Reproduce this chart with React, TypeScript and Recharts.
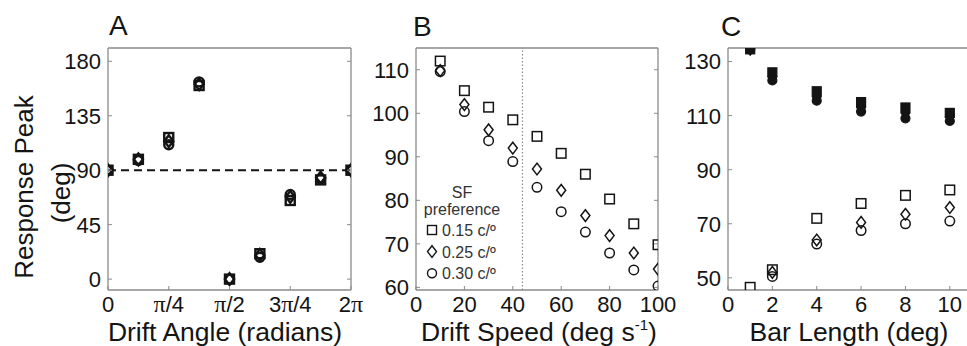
import React from 'react';
import { ScatterChart, Scatter, XAxis, YAxis, ReferenceLine } from 'recharts';

// Panel A: drift angle
const angleX = [0, 0.5, 1, 1.5, 2, 2.5, 3, 3.5, 4];
const angleSq = [90, 99, 117, 160, 0, 21, 65, 82, 90];
const angleDm = [90, 99, 114, 161, 0, 20, 68, 84, 90];
const angleCi = [90, 98, 111, 163, 0, 18, 70, 83, 90];
const angleTicks = [0, 1, 2, 3, 4];
const angleTickLabels = ['0', 'π/4', 'π/2', '3π/4', '2π'];
const peakTicks = [0, 45, 90, 135, 180];

// Panel B: drift speed
const speedX = [10, 20, 30, 40, 50, 60, 70, 80, 90, 100];
const speedSq = [112, 105.2, 101.4, 98.5, 94.7, 90.8, 86, 80.3, 74.6, 69.8];
const speedDm = [109.8, 102, 96.2, 92, 87.2, 82.3, 76.5, 71.9, 67.9, 64.2];
const speedCi = [109.6, 100.4, 93.7, 88.9, 83, 77.4, 72.7, 67.9, 64, 60.3];
const speedTicks = [0, 20, 40, 60, 80, 100];
const speedPeakTicks = [60, 70, 80, 90, 100, 110];
const sfLabels = ['0.15 c/º', '0.25 c/º', '0.30 c/º'];

// Panel C: bar length
const lengthX = [1, 2, 4, 6, 8, 10];
const lenFilledSq = [134.5, 126, 119, 115, 113, 111];
const lenFilledDm = [134.5, 124.5, 117, 113, 111, 109.5];
const lenFilledCi = [134.5, 123, 115.5, 111.5, 109, 108];
const lenOpenSq = [46.5, 53, 72, 77.5, 80.5, 82.5];
const lenOpenDm = [null, 52, 64, 70.5, 73.5, 76];
const lenOpenCi = [null, 50.5, 62.5, 67.5, 70, 71];
const lengthTicks = [0, 2, 4, 6, 8, 10];
const lengthPeakTicks = [50, 70, 90, 110, 130];

const FONT = '"Liberation Sans", Arial, Helvetica, sans-serif';
const INK = '#141414';
const FRAME = '#8a8a8a';

const toPoints = (xs: number[], ys: (number | null)[]) =>
  xs.map((x, i) => ({ x, y: ys[i] })).filter(p => p.y !== null);

type Kind = 'square' | 'diamond' | 'circle';

const drawMark = (kind: Kind, cx: number, cy: number, size: number, sw: number, filled: boolean) => {
  const h = size / 2;
  const fill = filled ? INK : 'none';
  if (kind === 'square')
    return <rect x={cx - h} y={cy - h} width={size} height={size} fill={fill} stroke={INK} strokeWidth={sw} />;
  if (kind === 'diamond')
    return (
      <polygon
        points={`${cx},${cy - h * 1.3} ${cx + h},${cy} ${cx},${cy + h * 1.3} ${cx - h},${cy}`}
        fill={fill}
        stroke={INK}
        strokeWidth={sw}
      />
    );
  return <circle cx={cx} cy={cy} r={h} fill={fill} stroke={INK} strokeWidth={sw} />;
};

const markShape = (kind: Kind, size: number, sw: number, filled = false) => (props: any) => {
  const { cx, cy } = props;
  if (cx == null || cy == null) return <g />;
  return drawMark(kind, cx, cy, size, sw, filled);
};

const labelText = (s: string) =>
  s.split(/(π)/).map((part, i) =>
    part === 'π' ? (
      <tspan key={i} fontFamily='"Liberation Serif", "Times New Roman", serif' fontSize={24}>
        π
      </tspan>
    ) : (
      <tspan key={i}>{part}</tspan>
    )
  );

const bottomTick = (labels?: string[], ticks?: number[]) => (props: any) => {
  const { x, y, payload } = props;
  const idx = ticks ? ticks.indexOf(payload.value) : -1;
  const label = labels && idx >= 0 ? labels[idx] : String(payload.value);
  return (
    <g>
      <line x1={x} x2={x} y1={y} y2={y - 4} stroke={FRAME} strokeWidth={1} />
      <text x={x} y={y + 22} textAnchor="middle" fontSize={22} fontFamily={FONT} fill={INK}>
        {labelText(label)}
      </text>
    </g>
  );
};

const topTick = (props: any) => {
  const { x, y } = props;
  return <line x1={x} x2={x} y1={y} y2={y + 4} stroke={FRAME} strokeWidth={1} />;
};

const leftTick = (props: any) => {
  const { x, y, payload } = props;
  return (
    <g>
      <line x1={x} x2={x + 4} y1={y} y2={y} stroke={FRAME} strokeWidth={1} />
      <text x={x - 7} y={y} dy="0.36em" textAnchor="end" fontSize={22} fontFamily={FONT} fill={INK}>
        {payload.value}
      </text>
    </g>
  );
};

const rightTick = (props: any) => {
  const { x, y } = props;
  return <line x1={x} x2={x - 4} y1={y} y2={y} stroke={FRAME} strokeWidth={1} />;
};

type PanelProps = {
  left: number;
  width: number;
  plotLeft: number;
  plotRight: number;
  xDomain: [number, number];
  yDomain: [number, number];
  xTicks: number[];
  yTicks: number[];
  xLabels?: string[];
  withRight?: boolean;
  children: React.ReactNode;
};

const PLOT_TOP = 48;
const PLOT_BOTTOM = 290;
const AX = 1; // axis box thickness

const axisCommon = {
  type: 'number' as const,
  interval: 0 as const,
  tickSize: 0,
  tickMargin: 0,
  tickLine: false,
  axisLine: { stroke: FRAME, strokeWidth: 1.3 },
  allowDataOverflow: true,
};

const Panel = ({ left, width, plotLeft, plotRight, xDomain, yDomain, xTicks, yTicks, xLabels, withRight = true, children }: PanelProps) => {
  const margin = {
    top: PLOT_TOP - AX,
    bottom: 346 - PLOT_BOTTOM - AX,
    left: plotLeft - left - AX,
    right: width - (plotRight - left) - (withRight ? AX : 0),
  };
  return (
    <div style={{ position: 'absolute', left, top: 0 }}>
      <ScatterChart width={width} height={346} margin={margin}>
        <XAxis {...axisCommon} dataKey="x" domain={xDomain} ticks={xTicks} height={AX} tick={bottomTick(xLabels, xTicks)} />
        <XAxis {...axisCommon} xAxisId="top" orientation="top" domain={xDomain} ticks={xTicks} height={AX} tick={topTick} />
        <YAxis {...axisCommon} dataKey="y" domain={yDomain} ticks={yTicks} width={AX} tick={leftTick} />
        {withRight && (
          <YAxis {...axisCommon} yAxisId="right" orientation="right" domain={yDomain} ticks={yTicks} width={AX} tick={rightTick} />
        )}
        {children}
      </ScatterChart>
    </div>
  );
};

export default function App() {
  return (
    <div
      style={{
        position: 'absolute',
        left: 0,
        top: 0,
        width: 967,
        height: 346,
        overflow: 'hidden',
        background: '#fff',
        fontFamily: FONT,
      }}
    >
      <Panel left={0} width={380} plotLeft={108} plotRight={351} xDomain={[0, 4]} yDomain={[-9, 191]} xTicks={angleTicks} yTicks={peakTicks} xLabels={angleTickLabels}>
        <ReferenceLine y={90} stroke={INK} strokeWidth={2} strokeDasharray="8 5" />
        <Scatter data={toPoints(angleX, angleSq)} shape={markShape('square', 9, 2.4)} isAnimationActive={false} />
        <Scatter data={toPoints(angleX, angleDm)} shape={markShape('diamond', 9, 2.4)} isAnimationActive={false} />
        <Scatter data={toPoints(angleX, angleCi)} shape={markShape('circle', 9, 2.4)} isAnimationActive={false} />
      </Panel>

      <Panel left={360} width={320} plotLeft={416} plotRight={658} xDomain={[0, 100]} yDomain={[59.4, 115]} xTicks={speedTicks} yTicks={speedPeakTicks}>
        <ReferenceLine x={44} stroke={FRAME} strokeWidth={1.2} strokeDasharray="1.5 2" />
        <Scatter data={toPoints(speedX, speedSq)} shape={markShape('square', 9.5, 1.5)} isAnimationActive={false} />
        <Scatter data={toPoints(speedX, speedDm)} shape={markShape('diamond', 9, 1.5)} isAnimationActive={false} />
        <Scatter data={toPoints(speedX, speedCi)} shape={markShape('circle', 9.5, 1.5)} isAnimationActive={false} />
      </Panel>

      <Panel left={660} width={312} plotLeft={728} plotRight={972} xDomain={[0, 11]} yDomain={[45.5, 135]} xTicks={lengthTicks} yTicks={lengthPeakTicks} withRight={false}>
        <Scatter data={toPoints(lengthX, lenFilledSq)} shape={markShape('square', 9, 1.2, true)} isAnimationActive={false} />
        <Scatter data={toPoints(lengthX, lenFilledDm)} shape={markShape('diamond', 9, 1.2, true)} isAnimationActive={false} />
        <Scatter data={toPoints(lengthX, lenFilledCi)} shape={markShape('circle', 9, 1.2, true)} isAnimationActive={false} />
        <Scatter data={toPoints(lengthX, lenOpenSq)} shape={markShape('square', 9.5, 1.5)} isAnimationActive={false} />
        <Scatter data={toPoints(lengthX, lenOpenDm)} shape={markShape('diamond', 9, 1.5)} isAnimationActive={false} />
        <Scatter data={toPoints(lengthX, lenOpenCi)} shape={markShape('circle', 9.5, 1.5)} isAnimationActive={false} />
      </Panel>

      {/* titles, panel letters and the SF legend */}
      <svg
        width={967}
        height={346}
        style={{ position: 'absolute', left: 0, top: 0, pointerEvents: 'none' }}
        fontFamily={FONT}
        fill={INK}
      >
        <text x={109} y={35} fontSize={28}>A</text>
        <text x={413} y={36} fontSize={28}>B</text>
        <text x={721} y={36} fontSize={28}>C</text>

        <text x={225} y={341} fontSize={26.5} textAnchor="middle">Drift Angle (radians)</text>
        <text x={539} y={341} fontSize={26.5} textAnchor="middle">
          Drift Speed (deg s<tspan fontSize={15} dy={-11}>-1</tspan>
          <tspan dy={11}>)</tspan>
        </text>
        <text x={849} y={341} fontSize={26.5} textAnchor="middle">Bar Length (deg)</text>

        <text x={33} y={187} fontSize={26} textAnchor="middle" transform="rotate(-90 33 187)">Response Peak</text>
        <text x={70} y={193} fontSize={26} textAnchor="middle" transform="rotate(-90 70 193)">(deg)</text>

        <text x={462} y={198} fontSize={16} textAnchor="middle" fill="#333">SF</text>
        <text x={462} y={215} fontSize={16} textAnchor="middle" fill="#333">preference</text>
        {(['square', 'diamond', 'circle'] as Kind[]).map((k, i) => (
          <g key={k}>
            {drawMark(k, 432, 230 + i * 21.6, 9, 1.4, false)}
            <text x={442} y={236 + i * 21.6} fontSize={16} fill="#333">{sfLabels[i]}</text>
          </g>
        ))}
      </svg>
    </div>
  );
}
